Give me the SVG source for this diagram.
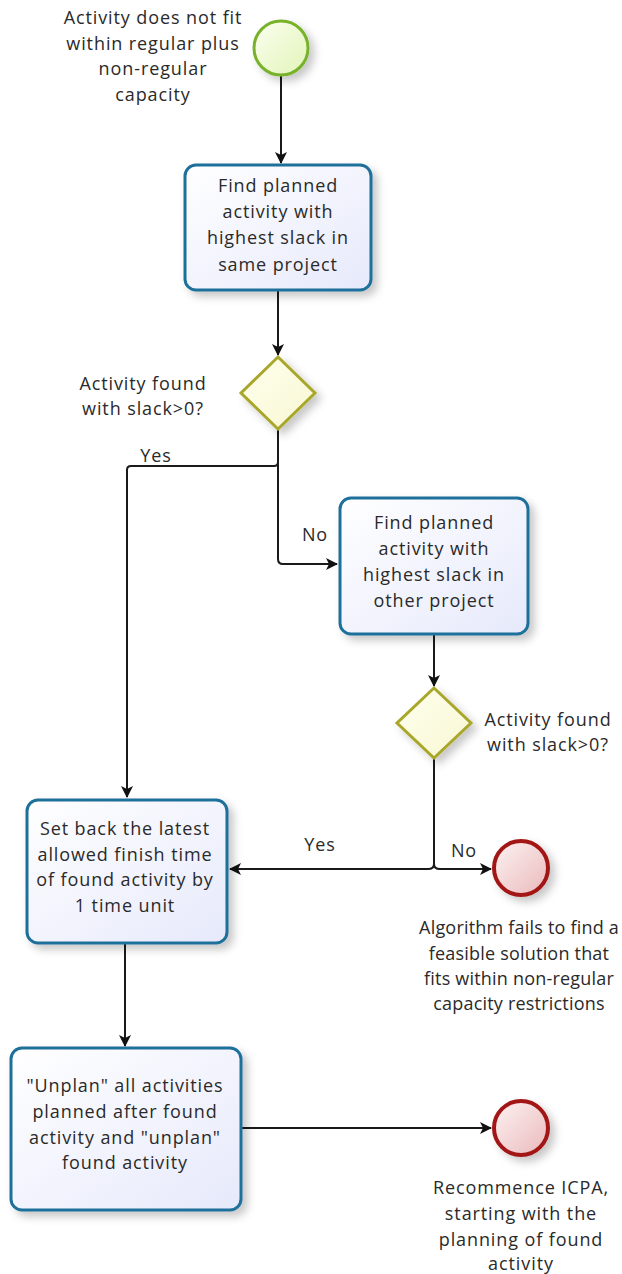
<svg xmlns="http://www.w3.org/2000/svg" width="622" height="1274" viewBox="0 0 622 1274">
<style>
text{font-family:"Open Sans","Noto Sans","Liberation Sans",sans-serif;font-size:18px;letter-spacing:0.9px;fill:#2a2a2a;text-anchor:middle}
.tight{letter-spacing:0.2px}
.task{fill:url(#gTask);stroke:#1e6f9a;stroke-width:3}
.gw{fill:url(#gGw);stroke:#a8a72a;stroke-width:3}
.start{fill:url(#gStart);stroke:#78b22c;stroke-width:3}
.end{fill:url(#gEnd);stroke:#a31515;stroke-width:4}
.c{fill:none;stroke:#1a1a1a;stroke-width:2}
</style>
<defs>
<linearGradient id="gTask" x1="0" y1="0" x2="1" y2="1"><stop offset="0" stop-color="#ffffff"/><stop offset="1" stop-color="#e6e9fb"/></linearGradient>
<linearGradient id="gGw" x1="0" y1="0" x2="1" y2="1"><stop offset="0" stop-color="#ffffef"/><stop offset="1" stop-color="#f8f7d2"/></linearGradient>
<linearGradient id="gStart" x1="0" y1="0" x2="1" y2="1"><stop offset="0" stop-color="#fbfff0"/><stop offset="1" stop-color="#e2f4b8"/></linearGradient>
<linearGradient id="gEnd" x1="0" y1="0" x2="1" y2="1"><stop offset="0" stop-color="#fdf3f3"/><stop offset="1" stop-color="#eab9bb"/></linearGradient>
<filter id="sh" x="-30%" y="-30%" width="170%" height="170%"><feDropShadow dx="5" dy="5" stdDeviation="4" flood-color="#000" flood-opacity="0.22"/></filter>
<marker id="ah" viewBox="0 0 12 12" refX="11" refY="6" markerWidth="12" markerHeight="12" markerUnits="userSpaceOnUse" orient="auto"><path d="M0,0 L12,6 L0,12 L3,6 Z" fill="#111"/></marker>
</defs>

<g id="connectors">
<path class="c" d="M281,76 V163" marker-end="url(#ah)"/>
<path class="c" d="M278,291 V355" marker-end="url(#ah)"/>
<path class="c" d="M278,430 V462 Q278,466 274,466 H131 Q127,466 127,470 V797" marker-end="url(#ah)"/>
<path class="c" d="M278,462 V559 Q278,564 283,564 H337" marker-end="url(#ah)"/>
<path class="c" d="M434,635 V686" marker-end="url(#ah)"/>
<path class="c" d="M434,759 V864 Q434,869 440,869 H491" marker-end="url(#ah)"/>
<path class="c" d="M434,864 Q434,869 428,869 H230" marker-end="url(#ah)"/>
<path class="c" d="M125,944 V1046" marker-end="url(#ah)"/>
<path class="c" d="M242,1128 H491" marker-end="url(#ah)"/>
<text x="156" y="462">Yes</text>
<text x="315" y="541">No</text>
<text x="320" y="851">Yes</text>
<text x="464" y="857">No</text>
</g>

<g id="start">
<circle class="start" cx="281" cy="48" r="27" filter="url(#sh)"/>
<text x="153" y="24">Activity does not fit</text>
<text x="153" y="50">within regular plus</text>
<text x="153" y="75">non-regular</text>
<text x="153" y="101">capacity</text>
</g>

<g id="task1">
<rect class="task" x="185" y="165" width="186" height="125" rx="11" filter="url(#sh)"/>
<text x="278" y="192">Find planned</text>
<text x="278" y="218">activity with</text>
<text x="278" y="244">highest slack in</text>
<text x="278" y="271">same project</text>
</g>

<g id="gateway1">
<polygon class="gw" points="278,357 315,393 278,429 241,393" filter="url(#sh)"/>
<text x="143" y="390">Activity found</text>
<text x="143" y="415">with slack&gt;0?</text>
</g>

<g id="task2">
<rect class="task" x="340" y="498" width="188" height="136" rx="11" filter="url(#sh)"/>
<text x="434" y="529">Find planned</text>
<text x="434" y="555">activity with</text>
<text x="434" y="581">highest slack in</text>
<text x="434" y="607">other project</text>
</g>

<g id="gateway2">
<polygon class="gw" points="434,688 471,723 434,758 397,723" filter="url(#sh)"/>
<text x="548" y="726">Activity found</text>
<text x="548" y="751">with slack&gt;0?</text>
</g>

<g id="task3">
<rect class="task" x="27" y="800" width="200" height="143" rx="11" filter="url(#sh)"/>
<text x="125" y="835">Set back the latest</text>
<text x="125" y="861">allowed finish time</text>
<text x="125" y="886">of found activity by</text>
<text x="125" y="912">1 time unit</text>
</g>

<g id="end1">
<circle class="end" cx="521" cy="868" r="27" filter="url(#sh)"/>
<text class="tight" x="519" y="934">Algorithm fails to find a</text>
<text class="tight" x="519" y="960">feasible solution that</text>
<text class="tight" x="519" y="985">fits within non-regular</text>
<text class="tight" x="519" y="1010">capacity restrictions</text>
</g>

<g id="task4">
<rect class="task" x="11" y="1048" width="230" height="162" rx="11" filter="url(#sh)"/>
<text x="125" y="1092">"Unplan" all activities</text>
<text x="125" y="1118">planned after found</text>
<text x="125" y="1144">activity and "unplan"</text>
<text x="125" y="1169">found activity</text>
</g>

<g id="end2">
<circle class="end" cx="521" cy="1128" r="27" filter="url(#sh)"/>
<text x="521" y="1194">Recommence ICPA,</text>
<text x="521" y="1220">starting with the</text>
<text x="521" y="1246">planning of found</text>
<text x="521" y="1270">activity</text>
</g>
</svg>
